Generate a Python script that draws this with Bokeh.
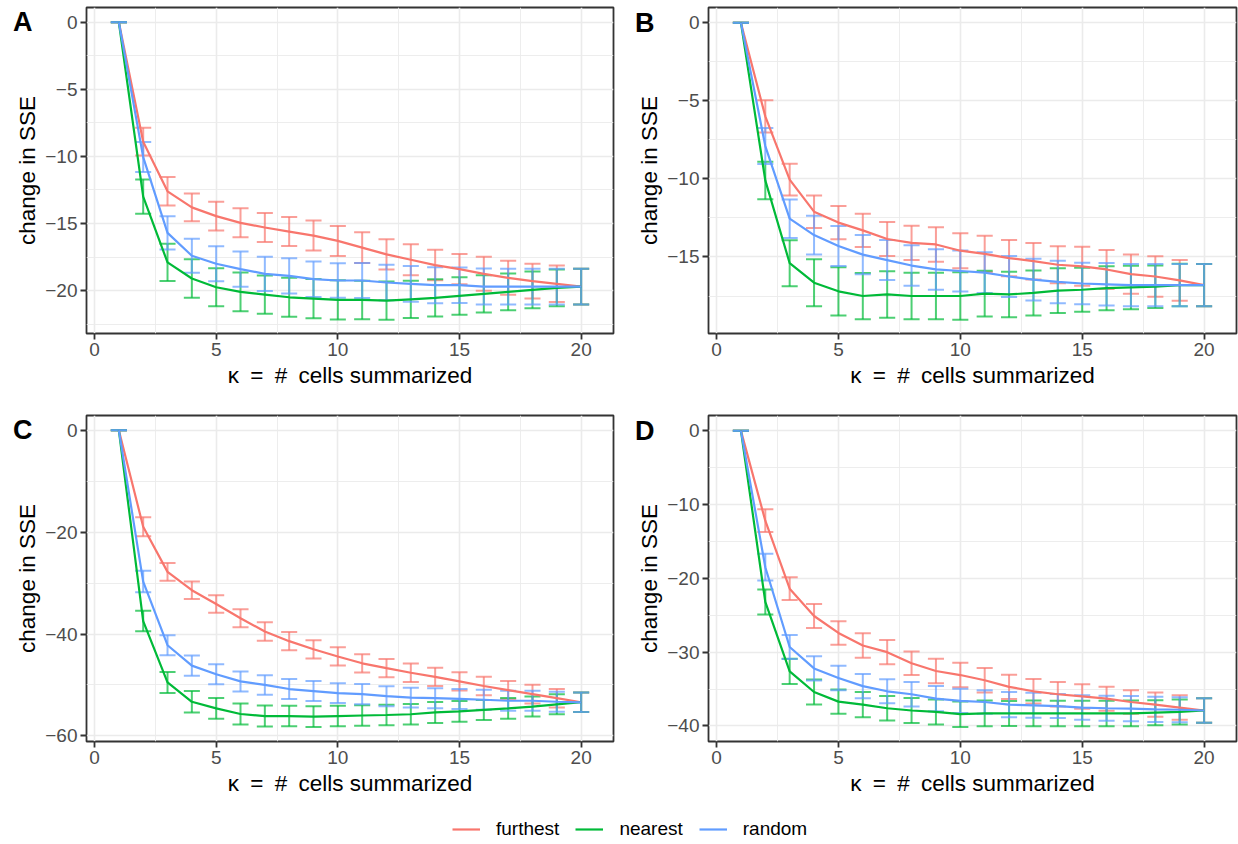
import numpy as np
from bokeh.plotting import figure
from bokeh.models import FixedTicker, LinearAxis, Legend, LegendItem, Range1d, ColumnDataSource
from bokeh.layouts import column, row
from bokeh.embed import file_html
from bokeh.resources import INLINE

# ---------------- data ----------------
kappa = list(range(1, 21))
series_names = ["furthest", "nearest", "random"]
series_colors = ["#F8766D", "#00BA38", "#619CFF"]

A_furthest = [0, -8.9, -12.6, -13.8, -14.45, -14.95, -15.3, -15.6, -15.9, -16.3, -16.8, -17.3, -17.7, -18.1, -18.4, -18.75, -19.05, -19.3, -19.5, -19.7]
A_furthest_err = [0, 1.03, 1.06, 1.03, 1.07, 1.08, 1.08, 1.08, 1.12, 1.12, 1.14, 1.13, 1.16, 1.14, 1.12, 1.27, 1.27, 1.29, 1.36, 1.33]
A_nearest = [0, -13.0, -17.9, -19.1, -19.75, -20.1, -20.3, -20.5, -20.6, -20.7, -20.7, -20.75, -20.65, -20.55, -20.4, -20.25, -20.1, -19.95, -19.8, -19.7]
A_nearest_err = [0, 1.27, 1.39, 1.43, 1.42, 1.44, 1.43, 1.46, 1.46, 1.46, 1.43, 1.43, 1.39, 1.39, 1.40, 1.39, 1.37, 1.37, 1.37, 1.33]
A_random = [0, -10.05, -15.7, -17.4, -18.0, -18.4, -18.75, -18.9, -19.15, -19.25, -19.25, -19.4, -19.5, -19.6, -19.6, -19.7, -19.7, -19.7, -19.7, -19.7]
A_random_err = [0, 1.12, 1.24, 1.27, 1.31, 1.32, 1.28, 1.31, 1.32, 1.29, 1.31, 1.33, 1.33, 1.34, 1.32, 1.34, 1.33, 1.33, 1.33, 1.33]

B_furthest = [0, -6.0, -10.05, -12.1, -12.8, -13.3, -13.85, -14.1, -14.2, -14.6, -14.8, -15.07, -15.27, -15.5, -15.6, -15.8, -16.1, -16.25, -16.5, -16.8]
B_furthest_err = [0, 1.03, 1.01, 1.04, 1.06, 1.06, 1.09, 1.09, 1.10, 1.12, 1.16, 1.16, 1.17, 1.18, 1.25, 1.25, 1.26, 1.30, 1.31, 1.35]
B_nearest = [0, -10.1, -15.4, -16.65, -17.2, -17.5, -17.4, -17.5, -17.5, -17.5, -17.35, -17.4, -17.3, -17.15, -17.1, -17.0, -16.95, -16.9, -16.8, -16.8]
B_nearest_err = [0, 1.20, 1.47, 1.51, 1.54, 1.48, 1.49, 1.49, 1.49, 1.52, 1.46, 1.46, 1.44, 1.43, 1.41, 1.41, 1.39, 1.36, 1.36, 1.35]
B_random = [0, -7.9, -12.55, -13.6, -14.3, -14.85, -15.2, -15.55, -15.8, -15.9, -16.0, -16.25, -16.45, -16.6, -16.7, -16.75, -16.8, -16.8, -16.8, -16.8]
B_random_err = [0, 1.15, 1.23, 1.24, 1.28, 1.26, 1.28, 1.30, 1.30, 1.31, 1.30, 1.31, 1.34, 1.36, 1.33, 1.36, 1.35, 1.35, 1.35, 1.35]

C_furthest = [0, -18.95, -27.8, -31.4, -34.1, -36.9, -39.5, -41.4, -43.0, -44.4, -45.75, -46.7, -47.6, -48.4, -49.3, -50.2, -51.0, -51.8, -52.6, -53.4]
C_furthest_err = [0, 1.86, 1.76, 1.70, 1.73, 1.76, 1.80, 1.80, 1.80, 1.80, 1.80, 1.80, 1.80, 1.80, 1.80, 1.83, 1.80, 1.86, 1.83, 1.93]
C_nearest = [0, -37.45, -49.5, -53.3, -54.6, -55.7, -56.1, -56.1, -56.2, -56.1, -56.0, -55.9, -55.75, -55.4, -55.2, -54.9, -54.6, -54.25, -53.8, -53.4]
C_nearest_err = [0, 2.03, 2.06, 2.09, 2.03, 2.06, 2.06, 2.03, 2.03, 2.00, 2.03, 2.03, 2.03, 2.06, 2.03, 1.96, 2.03, 1.96, 1.96, 1.93]
C_random = [0, -29.7, -42.2, -46.2, -47.9, -49.3, -50.0, -50.8, -51.2, -51.6, -51.8, -52.2, -52.5, -52.6, -52.75, -52.9, -53.1, -53.1, -53.3, -53.4]
C_random_err = [0, 2.12, 1.96, 2.00, 1.96, 1.96, 1.90, 1.96, 1.96, 1.96, 2.00, 1.96, 1.93, 1.96, 1.96, 1.96, 1.96, 1.96, 1.96, 1.93]

D_furthest = [0, -12.2, -21.4, -25.1, -27.4, -29.1, -30.0, -31.5, -32.55, -33.1, -33.8, -34.7, -35.3, -35.7, -36.0, -36.3, -36.75, -37.1, -37.5, -37.9]
D_furthest_err = [0, 1.54, 1.54, 1.63, 1.60, 1.65, 1.65, 1.60, 1.65, 1.65, 1.65, 1.65, 1.67, 1.67, 1.65, 1.63, 1.60, 1.65, 1.65, 1.65]
D_nearest = [0, -23.2, -32.6, -35.4, -36.7, -37.1, -37.6, -37.9, -38.1, -38.4, -38.3, -38.3, -38.3, -38.3, -38.3, -38.3, -38.3, -38.2, -38.1, -37.9]
D_nearest_err = [0, 1.70, 1.72, 1.70, 1.65, 1.70, 1.65, 1.70, 1.70, 1.72, 1.74, 1.70, 1.74, 1.72, 1.72, 1.72, 1.74, 1.70, 1.70, 1.65]
D_random = [0, -18.5, -29.3, -32.2, -33.5, -34.6, -35.3, -35.7, -36.3, -36.6, -36.75, -37.1, -37.2, -37.3, -37.5, -37.6, -37.65, -37.75, -37.8, -37.9]
D_random_err = [0, 1.81, 1.63, 1.65, 1.65, 1.65, 1.63, 1.67, 1.70, 1.65, 1.60, 1.70, 1.70, 1.63, 1.67, 1.70, 1.70, 1.70, 1.70, 1.65]

x_ticks = [0, 5, 10, 15, 20]
x_minor = [2.5, 7.5, 12.5, 17.5]
A_yticks = [-20, -15, -10, -5, 0]
A_yminor = [-22.5, -17.5, -12.5, -7.5, -2.5]
B_yticks = [-15, -10, -5, 0]
B_yminor = [-17.5, -12.5, -7.5, -2.5]
C_yticks = [-60, -40, -20, 0]
C_yminor = [-50, -30, -10]
D_yticks = [-40, -30, -20, -10, 0]
D_yminor = [-35, -25, -15, -5]

x_title = "\u03ba\u2002=\u2002#\u2002cells summarized"
y_title = "change in SSE"

FONT = "Liberation Sans"
GRID = "#EBEBEB"
DARK = "#333333"


def make_panel(tag, means, errs, yticks, yminor, yrange, w, h, bl, br, bt, bb):
    p = figure(width=w, height=h, output_backend="svg", toolbar_location=None,
               x_range=Range1d(start=-0.33, end=21.33),
               y_range=Range1d(start=yrange[0], end=yrange[1]),
               min_border_left=bl, min_border_right=br, min_border_top=bt,
               min_border_bottom=bb)
    p.background_fill_color = "white"
    p.border_fill_color = "white"
    p.outline_line_color = DARK
    p.outline_line_width = 1.8

    p.xaxis.ticker = FixedTicker(ticks=x_ticks, minor_ticks=x_minor)
    p.yaxis.ticker = FixedTicker(ticks=yticks, minor_ticks=yminor)
    p.yaxis.major_label_overrides = {t: str(t).replace("-", "\u2212") for t in yticks}

    for ax in (p.xaxis, p.yaxis):
        ax.axis_line_color = None
        ax.major_tick_line_color = DARK
        ax.major_tick_line_width = 1.8
        ax.major_tick_out = 6
        ax.major_tick_in = 0
        ax.minor_tick_line_color = None
        ax.major_label_text_font = FONT
        ax.major_label_text_font_size = "19px"
        ax.major_label_text_color = "#4D4D4D"
        ax.axis_label_text_font = FONT
        ax.axis_label_text_font_size = "22.5px"
        ax.axis_label_text_font_style = "normal"
        ax.axis_label_text_color = "black"
    p.xaxis.axis_label = x_title
    p.yaxis.axis_label = y_title
    p.xaxis.major_label_standoff = 3
    p.yaxis.major_label_standoff = 3
    p.xaxis.axis_label_standoff = 4
    p.yaxis.axis_label_standoff = 2

    for g in (p.xgrid, p.ygrid):
        g.grid_line_color = GRID
        g.grid_line_width = 1.6
        g.minor_grid_line_color = GRID
        g.minor_grid_line_width = 0.9

    x = np.array(kappa, dtype=float)
    # error bars
    for m, e, c in zip(means, errs, series_colors):
        m = np.array(m)
        e = np.array(e)
        src = ColumnDataSource(dict(x=x, lo=m - e, hi=m + e, xl=x - 0.33, xr=x + 0.33))
        p.segment(x0="x", y0="lo", x1="x", y1="hi", source=src, line_color=c, line_alpha=0.7, line_width=2)
        p.segment(x0="xl", y0="lo", x1="xr", y1="lo", source=src, line_color=c, line_alpha=0.7, line_width=2)
        p.segment(x0="xl", y0="hi", x1="xr", y1="hi", source=src, line_color=c, line_alpha=0.7, line_width=2)
    # mean lines
    for m, c in zip(means, series_colors):
        p.line(x=kappa, y=m, line_color=c, line_width=2.2)

    # panel tag: an outer, mark-less axis whose single tick label is the tag
    tag_axis = LinearAxis(ticker=FixedTicker(ticks=[0]), major_label_overrides={0: tag},
                          axis_line_color=None, major_tick_line_color=None, minor_tick_line_color=None,
                          major_tick_out=0, major_tick_in=0, major_label_standoff=-20,
                          major_label_text_font=FONT, major_label_text_font_size="27px",
                          major_label_text_font_style="bold", major_label_text_color="black")
    p.add_layout(tag_axis, "left")
    return p


pA = make_panel("A", [A_furthest, A_nearest, A_random], [A_furthest_err, A_nearest_err, A_random_err],
                A_yticks, A_yminor, (-23.2, 1.1), 625, 405, 86, 12, 7, 72)
pB = make_panel("B", [B_furthest, B_nearest, B_random], [B_furthest_err, B_nearest_err, B_random_err],
                B_yticks, B_yminor, (-19.9, 0.97), 613, 405, 83, 2, 7, 72)
pC = make_panel("C", [C_furthest, C_nearest, C_random], [C_furthest_err, C_nearest_err, C_random_err],
                C_yticks, C_yminor, (-61.1, 2.9), 625, 408, 86, 12, 10, 72)
pD = make_panel("D", [D_furthest, D_nearest, D_random], [D_furthest_err, D_nearest_err, D_random_err],
                D_yticks, D_yminor, (-42.1, 2.05), 613, 408, 83, 2, 10, 72)

# legend strip (glyph renderers sit outside the visible range; only the legend shows)
leg = figure(width=1238, height=31, output_backend="svg", toolbar_location=None,
             x_range=Range1d(start=100, end=101), y_range=Range1d(start=100, end=101),
             min_border=0, min_border_left=0, min_border_right=0, min_border_top=0, min_border_bottom=0)
leg.axis.visible = False
leg.grid.visible = False
leg.outline_line_color = None
items = []
for name, c, m in zip(series_names, series_colors, [A_furthest, A_nearest, A_random]):
    r = leg.line(x=kappa, y=m, line_color=c, line_width=2.2)
    items.append(LegendItem(label=name, renderers=[r]))
legend = Legend(items=items, orientation="horizontal", location=(452, 4),
                glyph_width=28, glyph_height=20, label_standoff=16, spacing=16,
                padding=0, margin=0, border_line_color=None, background_fill_alpha=0,
                label_text_font=FONT, label_text_font_size="19px", label_text_color="black")
leg.add_layout(legend, "center")

layout = column(row(pA, pB), row(pC, pD), leg)
open("out.html", "w").write(file_html(layout, INLINE))
